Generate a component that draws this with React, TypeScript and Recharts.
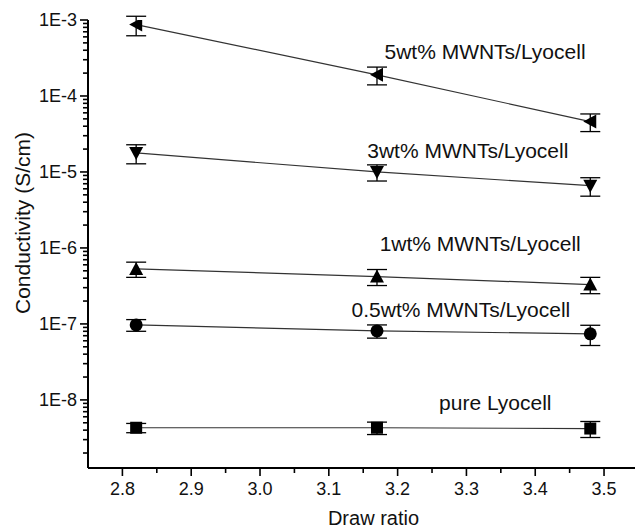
import React from 'react'
import { LineChart, Line, XAxis, YAxis, ErrorBar, ReferenceDot } from 'recharts'

const drawRatio = [2.82, 3.17, 3.48]

const cond5 = [8.7e-4, 1.9e-4, 4.6e-5]
const err5 = [2.5e-4, 5e-5, 1.2e-5]
const cond3 = [1.78e-5, 1.0e-5, 6.6e-6]
const err3 = [5e-6, 2.4e-6, 1.8e-6]
const cond1 = [5.3e-7, 4.2e-7, 3.3e-7]
const err1 = [1.2e-7, 1e-7, 8e-8]
const cond05 = [9.7e-8, 8.1e-8, 7.4e-8]
const err05 = [1.7e-8, 1.6e-8, 2.2e-8]
const condPure = [4.3e-9, 4.3e-9, 4.2e-9]
const errPure = [0.6e-9, 0.8e-9, 1.0e-9]

const xTicks = [2.8, 2.85, 2.9, 2.95, 3.0, 3.05, 3.1, 3.15, 3.2, 3.25, 3.3, 3.35, 3.4, 3.45, 3.5]
const xMajor = [2.8, 2.9, 3.0, 3.1, 3.2, 3.3, 3.4, 3.5]
const yExponents = [-9, -8, -7, -6, -5, -4, -3]
const yMajor = [1e-8, 1e-7, 1e-6, 1e-5, 1e-4, 1e-3]
const yLabels = ['1E-8', '1E-7', '1E-6', '1E-5', '1E-4', '1E-3']

// annotation text, anchored at its centre in data units
const labelText = ['5wt% MWNTs/Lyocell', '3wt% MWNTs/Lyocell', '1wt% MWNTs/Lyocell', '0.5wt% MWNTs/Lyocell', 'pure Lyocell']
const labelX = [3.327, 3.302, 3.32, 3.292, 3.342]
const labelY = [3.8e-4, 1.89e-5, 1.16e-6, 1.53e-7, 9.1e-9]

const FONT = '"Liberation Sans", Arial, Helvetica, sans-serif'

const yTicks: number[] = []
yExponents.forEach(e => {
  for (let m = 1; m <= 9; m++) {
    const v = Number((m * Math.pow(10, e)).toPrecision(3))
    if (v >= 2e-9 && v <= 1e-3) yTicks.push(v)
  }
})

function toRows(vals: number[], errs: number[]) {
  return drawRatio.map((x, i) => ({ x, y: vals[i], err: errs[i] }))
}

function Marker(props: any) {
  const { cx, cy, shape } = props
  if (cx == null || cy == null) return null
  if (shape === 'left') return <polygon points={`${cx - 7},${cy} ${cx + 6},${cy - 7} ${cx + 6},${cy + 7}`} fill="#000" />
  if (shape === 'down') return <polygon points={`${cx - 7},${cy - 6} ${cx + 7},${cy - 6} ${cx},${cy + 7}`} fill="#000" />
  if (shape === 'up') return <polygon points={`${cx - 7},${cy + 6} ${cx + 7},${cy + 6} ${cx},${cy - 7}`} fill="#000" />
  if (shape === 'circle') return <circle cx={cx} cy={cy} r={6.5} fill="#000" />
  return <rect x={cx - 6} y={cy - 6} width={12} height={12} fill="#000" />
}

function YTick(props: any) {
  const { x, y, payload } = props
  const idx = yMajor.findIndex(v => Math.abs(v - payload.value) / v < 1e-6)
  const major = idx >= 0
  return (
    <g>
      <line x1={x - (major ? 8 : 5)} x2={x} y1={y} y2={y} stroke="#000" strokeWidth={1.6} />
      {major && (
        <text x={x - 11} y={y} dy="0.35em" textAnchor="end" fontSize={18} fontFamily={FONT} fill="#111">
          {yLabels[idx]}
        </text>
      )}
    </g>
  )
}

function XTick(props: any) {
  const { x, y, payload } = props
  const major = xMajor.some(v => Math.abs(v - payload.value) < 1e-6)
  return (
    <g>
      <line x1={x} x2={x} y1={y} y2={y + (major ? 8 : 5)} stroke="#000" strokeWidth={1.6} />
      {major && (
        <text x={x} y={y} dy={27} textAnchor="middle" fontSize={18} fontFamily={FONT} fill="#111">
          {payload.value.toFixed(1)}
        </text>
      )}
    </g>
  )
}

const series = [
  { key: '5', data: toRows(cond5, err5), shape: 'left' },
  { key: '3', data: toRows(cond3, err3), shape: 'down' },
  { key: '1', data: toRows(cond1, err1), shape: 'up' },
  { key: '05', data: toRows(cond05, err05), shape: 'circle' },
  { key: 'pure', data: toRows(condPure, errPure), shape: 'square' },
]

export default function App() {
  return (
    <div style={{ position: 'absolute', left: 0, top: 0, background: '#fff' }}>
      <LineChart width={635} height={528} margin={{ top: 20, right: 0, bottom: 0, left: 0 }}>
        <XAxis
          dataKey="x"
          type="number"
          domain={[2.75, 3.545]}
          ticks={xTicks}
          interval={0}
          allowDataOverflow
          tick={<XTick />}
          tickLine={false}
          tickSize={0}
          tickMargin={0}
          axisLine={{ stroke: '#000', strokeWidth: 2 }}
          height={60}
          label={{ value: 'Draw ratio', position: 'insideBottom', offset: 3, dx: 12, fontSize: 20, fontFamily: FONT, fill: '#111' }}
        />
        <XAxis
          xAxisId="top"
          orientation="top"
          type="number"
          domain={[2.75, 3.545]}
          tick={false}
          tickLine={false}
          axisLine={{ stroke: '#000', strokeWidth: 2 }}
          height={0}
        />
        <YAxis
          type="number"
          scale="log"
          domain={[1.27e-9, 1e-3]}
          allowDataOverflow
          ticks={yTicks}
          interval={0}
          tick={<YTick />}
          tickLine={false}
          tickSize={0}
          tickMargin={0}
          axisLine={{ stroke: '#000', strokeWidth: 2 }}
          width={88}
          label={{
            content: ({ viewBox }: any) => {
              const cx = viewBox.x + 23
              const cy = viewBox.y + viewBox.height / 2 - 21
              return (
                <text x={cx} y={cy} transform={`rotate(-90, ${cx}, ${cy})`} textAnchor="middle" dy="0.35em" fontSize={21} fontFamily={FONT} fill="#111">
                  Conductivity (S/cm)
                </text>
              )
            },
          }}
        />
        {series.map(s => (
          <Line
            key={s.key}
            data={s.data}
            dataKey="y"
            type="linear"
            stroke="#333"
            strokeWidth={1.2}
            isAnimationActive={false}
            dot={(p: any) => <Marker key={`${s.key}-${p.index}`} cx={p.cx} cy={p.cy} shape={s.shape} />}
            activeDot={false}
          >
            <ErrorBar dataKey="err" direction="y" width={10} stroke="#000" strokeWidth={1.3} />
          </Line>
        ))}
        {labelText.map((t, i) => (
          <ReferenceDot
            key={t}
            x={labelX[i]}
            y={labelY[i]}
            r={0}
            fill="none"
            stroke="none"
            label={{ value: t, position: 'center', fontSize: 21, fontFamily: FONT, fill: '#111' }}
          />
        ))}
      </LineChart>
    </div>
  )
}
